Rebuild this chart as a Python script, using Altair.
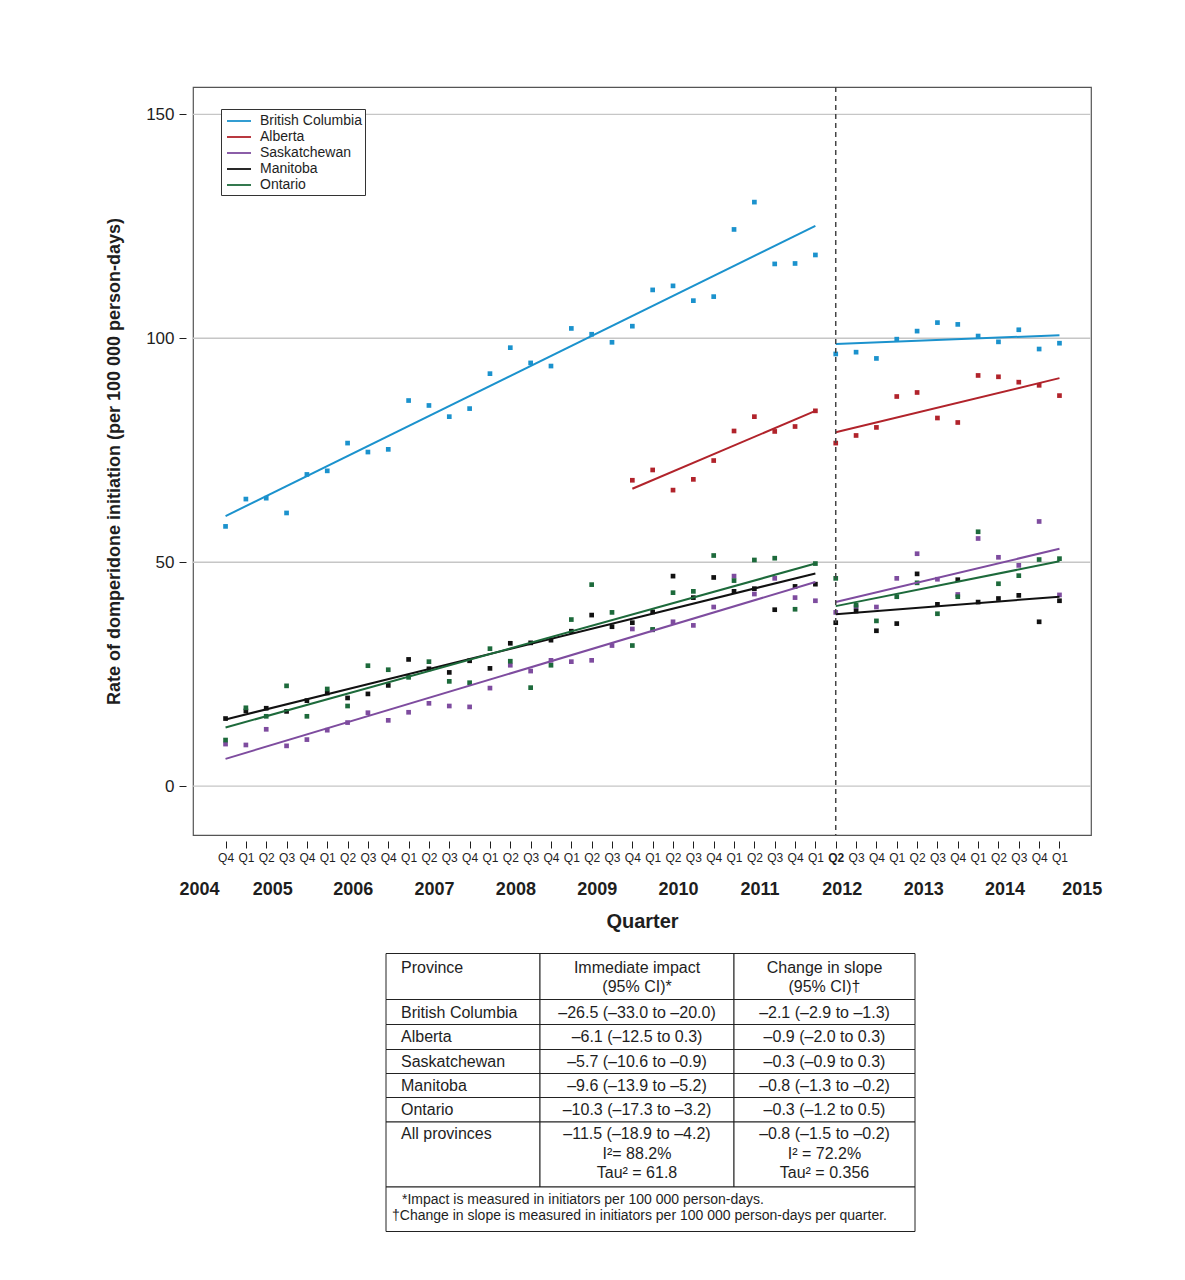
import json
import altair as alt
import pandas as pd

# ---------------- data ----------------
provinces = ["British Columbia", "Alberta", "Saskatchewan", "Manitoba", "Ontario"]
colors = ["#1b92cd", "#b1232b", "#7e4c9f", "#111111", "#1d6a3b"]

quarter_labels = ["Q4",
                  "Q1", "Q2", "Q3", "Q4",   # 2005
                  "Q1", "Q2", "Q3", "Q4",   # 2006
                  "Q1", "Q2", "Q3", "Q4",   # 2007
                  "Q1", "Q2", "Q3", "Q4",   # 2008
                  "Q1", "Q2", "Q3", "Q4",   # 2009
                  "Q1", "Q2", "Q3", "Q4",   # 2010
                  "Q1", "Q2", "Q3", "Q4",   # 2011
                  "Q1", "Q2", "Q3", "Q4",   # 2012
                  "Q1", "Q2", "Q3", "Q4",   # 2013
                  "Q1", "Q2", "Q3", "Q4",   # 2014
                  "Q1"]                     # 2015
years = ["2004", "2005", "2006", "2007", "2008", "2009", "2010", "2011",
         "2012", "2013", "2014", "2015"]
year_pos = [-1.3, 2.3, 6.25, 10.25, 14.25, 18.25, 22.25, 26.25, 30.3, 34.3, 38.3, 42.1]
intervention_q = 30
grid_values = [0, 50, 100, 150]

bc = [58.0, 64.1, 64.3, 61.0, 69.6, 70.4, 76.6, 74.6, 75.2, 86.1, 85.0, 82.5,
      84.3, 92.1, 97.9, 94.5, 93.8, 102.2, 100.9, 99.1, 102.7, 110.8, 111.7,
      108.4, 109.3, 124.3, 130.4, 116.6, 116.7, 118.6,
      96.5, 96.9, 95.5, 99.8, 101.6, 103.5, 103.1, 100.5, 99.2, 101.9, 97.6, 98.9]
ab = [None] * 20 + [68.3, 70.6, 66.1, 68.5, 72.7, 79.3, 82.5, 79.2, 80.3, 83.8,
                    76.6, 78.3, 80.1, 87.0, 87.9, 82.2, 81.2, 91.7, 91.4, 90.2, 89.5, 87.2]
sk = [9.4, 9.2, 12.7, 9.0, 10.4, 12.5, 14.2, 16.4, 14.7, 16.5, 18.5, 17.9,
      17.7, 21.9, 27.0, 25.7, 28.1, 27.8, 28.1, 31.4, 35.1, 34.9, 36.7, 35.9,
      40.0, 46.9, 42.9, 46.4, 42.1, 41.4,
      38.8, 40.0, 40.0, 46.4, 51.9, 46.2, 42.8, 55.3, 51.1, 49.3, 59.1, 42.7]
mb = [15.1, 16.8, 17.4, 16.7, 19.1, 20.8, 19.7, 20.6, 22.5, 28.3, 26.2, 25.4,
      28.0, 26.3, 31.9, 32.0, 32.6, 34.6, 38.2, 35.6, 36.5, 38.9, 46.9, 42.1,
      46.6, 43.5, 44.1, 39.4, 44.6, 45.1,
      36.5, 39.1, 34.7, 36.3, 47.4, 40.6, 46.1, 41.1, 41.9, 42.6, 36.7, 41.4]
on = [10.3, 17.5, 15.6, 22.4, 15.6, 21.7, 17.9, 26.9, 26.0, 24.3, 27.8, 23.4,
      23.1, 30.7, 27.9, 22.0, 27.0, 37.2, 45.0, 38.8, 31.4, 35.0, 43.2, 43.5,
      51.5, 45.9, 50.5, 50.9, 39.5, 49.7,
      46.4, 40.4, 36.9, 42.3, 45.4, 38.5, 42.3, 56.8, 45.2, 47.0, 50.6, 50.8]
series = [bc, ab, sk, mb, on]

# fitted segment end values
pre_fit_from = [0, 20, 0, 0, 0]
pre_fit_to = 29
post_fit_from = 30
post_fit_to = 41
pre_fit_start = [60.3, 66.4, 6.1, 14.9, 13.1]
pre_fit_end = [125.1, 83.8, 45.6, 47.5, 49.7]
post_fit_start = [98.7, 79.0, 41.1, 38.4, 40.2]
post_fit_end = [100.7, 91.1, 53.0, 42.3, 50.2]

# table content
tbl_header = ["Province", "Immediate impact", "(95% CI)*", "Change in slope", "(95% CI)†"]
tbl_provinces = ["British Columbia", "Alberta", "Saskatchewan", "Manitoba", "Ontario", "All provinces"]
tbl_impact = ["–26.5 (–33.0 to –20.0)", "–6.1 (–12.5 to 0.3)", "–5.7 (–10.6 to –0.9)",
              "–9.6 (–13.9 to –5.2)", "–10.3 (–17.3 to –3.2)", "–11.5 (–18.9 to –4.2)"]
tbl_slope = ["–2.1 (–2.9 to –1.3)", "–0.9 (–2.0 to 0.3)", "–0.3 (–0.9 to 0.3)",
             "–0.8 (–1.3 to –0.2)", "–0.3 (–1.2 to 0.5)", "–0.8 (–1.5 to –0.2)"]
tbl_impact_extra = ["I²= 88.2%", "Tau² = 61.8"]
tbl_slope_extra = ["I² = 72.2%", "Tau² = 0.356"]
tbl_notes = ["*Impact is measured in initiators per 100 000 person-days.",
             "†Change in slope is measured in initiators per 100 000 person-days per quarter."]

# ---------------- frames ----------------
pts = pd.DataFrame([{"province": p, "q": i, "value": v}
                    for p, s in zip(provinces, series)
                    for i, v in enumerate(s) if v is not None])
fit_rows = []
for k, p in enumerate(provinces):
    fit_rows += [
        {"province": p, "seg": p + " pre", "q": pre_fit_from[k], "value": pre_fit_start[k]},
        {"province": p, "seg": p + " pre", "q": pre_fit_to, "value": pre_fit_end[k]},
        {"province": p, "seg": p + " post", "q": post_fit_from, "value": post_fit_start[k]},
        {"province": p, "seg": p + " post", "q": post_fit_to, "value": post_fit_end[k]},
    ]
fits = pd.DataFrame(fit_rows)

# ---------------- main plot ----------------
W, H = 898, 748
xscale = alt.Scale(domain=[-1.6, 42.55], nice=False, zero=False)
yscale = alt.Scale(domain=[-10.9, 156.1], nice=False, zero=False)
ink = "#1e1e1e"

qaxis = alt.Axis(values=list(range(len(quarter_labels))),
                 labelExpr=json.dumps(quarter_labels) + "[datum.value]",
                 orient="bottom", offset=6, tickSize=7, tickColor=ink, tickWidth=1,
                 domain=False, grid=False, labelFontSize=12, labelColor=ink,
                 labelPadding=4, labelOverlap=False, labelFlush=False,
                 labelFontWeight={"condition": {"test": f"datum.value == {intervention_q}",
                                                "value": "bold"}, "value": "normal"},
                 title=None)
yaxis = alt.Axis(values=grid_values, offset=7, tickSize=7, tickColor=ink, domain=False,
                 grid=False, labelFontSize=17, labelColor=ink, labelPadding=5,
                 title="Rate of domperidone initiation (per 100 000 person-days)",
                 titleFontSize=18, titleFontWeight="bold", titleColor=ink, titlePadding=22)

x_enc = alt.X("q:Q", scale=xscale, axis=qaxis)
cscale = alt.Scale(domain=provinces, range=colors)

grid = alt.Chart(pd.DataFrame({"g": grid_values})).mark_rule(
    color="#c6c6c6", strokeWidth=1.3).encode(y=alt.Y("g:Q", scale=yscale, axis=yaxis))

points = alt.Chart(pts).mark_square(size=22, opacity=1).encode(
    x=x_enc, y=alt.Y("value:Q", scale=yscale, axis=yaxis),
    color=alt.Color("province:N", scale=cscale, legend=None))

legend = alt.Legend(orient="none", legendX=28, legendY=22, title=None,
                    symbolType="M-1.5,0H1.5", symbolSize=256, symbolStrokeWidth=1.8,
                    symbolOffset=6, labelOffset=12, labelFontSize=14, labelColor=ink,
                    padding=3, rowPadding=0, strokeColor="#333", fillColor="white")
fit_lines = alt.Chart(fits).mark_line(strokeWidth=2).encode(
    x=x_enc, y=alt.Y("value:Q", scale=yscale, axis=yaxis),
    color=alt.Color("province:N", scale=cscale, legend=legend),
    detail="seg:N")

vrule = alt.Chart(pd.DataFrame({"q": [intervention_q]})).mark_rule(
    color="#444", strokeDash=[5, 4], strokeWidth=1.5).encode(x=x_enc)

year_axis = alt.Axis(values=year_pos,
                     labelExpr=f"{json.dumps(years)}[indexof({json.dumps(year_pos)}, datum.value)]",
                     orient="bottom", offset=6, ticks=False, tickSize=0, domain=False,
                     grid=False, labelFontSize=18, labelFontWeight="bold", labelColor=ink,
                     labelPadding=39, labelOverlap=False, labelFlush=False,
                     title="Quarter", titleFontSize=20, titleFontWeight="bold",
                     titleColor=ink, titlePadding=13)
year_layer = alt.Chart(pd.DataFrame({"pos": year_pos, "year": years})).mark_point(
    opacity=0).encode(x=alt.X("pos:Q", scale=xscale, axis=year_axis))

inner = alt.layer(grid, points, fit_lines, vrule).resolve_scale(color="independent")
main = alt.layer(inner, year_layer).resolve_scale(x="independent").properties(
    width=W, height=H, view=alt.ViewBackground(stroke="#555", strokeWidth=1.2))

# ---------------- table ----------------
TH = 278
col_edges = [193, 347, 541, 722]
row_edges = [0, 46, 71, 96, 120, 144, 168.5, 233.5, 278]
x_left, x_c2, x_c3 = 208, 444, 631.5
header_y = [14.2, 33.5]
body_y = [59.0, 83.5, 108.0, 132.0, 156.0, 180.2]
extra_y = [200.8, 219.2]
note_y = [246.8, 262.8]
note_x = [209, 199]

cells = []
for r in range(len(row_edges) - 2):
    for c in range(3):
        cells.append({"x": col_edges[c], "x2": col_edges[c + 1],
                      "y": row_edges[r], "y2": row_edges[r + 1]})
cells.append({"x": col_edges[0], "x2": col_edges[3], "y": row_edges[-2], "y2": row_edges[-1]})
cells = pd.DataFrame(cells)

left_txt = [{"text": tbl_header[0], "x": x_left, "y": header_y[0]}]
left_txt += [{"text": t, "x": x_left, "y": body_y[k]} for k, t in enumerate(tbl_provinces)]
center_txt = [{"text": tbl_header[1], "x": x_c2, "y": header_y[0]},
              {"text": tbl_header[2], "x": x_c2, "y": header_y[1]},
              {"text": tbl_header[3], "x": x_c3, "y": header_y[0]},
              {"text": tbl_header[4], "x": x_c3, "y": header_y[1]}]
center_txt += [{"text": t, "x": x_c2, "y": body_y[k]} for k, t in enumerate(tbl_impact)]
center_txt += [{"text": t, "x": x_c3, "y": body_y[k]} for k, t in enumerate(tbl_slope)]
center_txt += [{"text": t, "x": x_c2, "y": extra_y[k]} for k, t in enumerate(tbl_impact_extra)]
center_txt += [{"text": t, "x": x_c3, "y": extra_y[k]} for k, t in enumerate(tbl_slope_extra)]
note_txt = [{"text": t, "x": note_x[k], "y": note_y[k]} for k, t in enumerate(tbl_notes)]

tx = alt.Scale(domain=[0, W], nice=False, zero=False)
ty = alt.Scale(domain=[0, TH], nice=False, zero=False, reverse=True)


def txt_layer(rows, align, size):
    return alt.Chart(pd.DataFrame(rows)).mark_text(
        align=align, baseline="middle", fontSize=size, color=ink).encode(
        x=alt.X("x:Q", scale=tx, axis=None), y=alt.Y("y:Q", scale=ty, axis=None),
        text="text:N")


cell_layer = alt.Chart(cells).mark_rect(fill="white", stroke="#222", strokeWidth=1).encode(
    x=alt.X("x:Q", scale=tx, axis=None), x2="x2:Q",
    y=alt.Y("y:Q", scale=ty, axis=None), y2="y2:Q")

table = alt.layer(cell_layer, txt_layer(left_txt, "left", 16),
                  txt_layer(center_txt, "center", 16),
                  txt_layer(note_txt, "left", 14)).properties(
    width=W, height=TH, view=alt.ViewBackground(stroke="transparent"))

chart = alt.vconcat(main, table, spacing=118.5, bounds="flush").properties(
    padding={"left": 97, "top": 77, "right": 10, "bottom": 10},
).configure(font="Liberation Sans").configure_view(stroke="transparent")

chart.save("out.html", embed_options={"renderer": "svg", "actions": False})
